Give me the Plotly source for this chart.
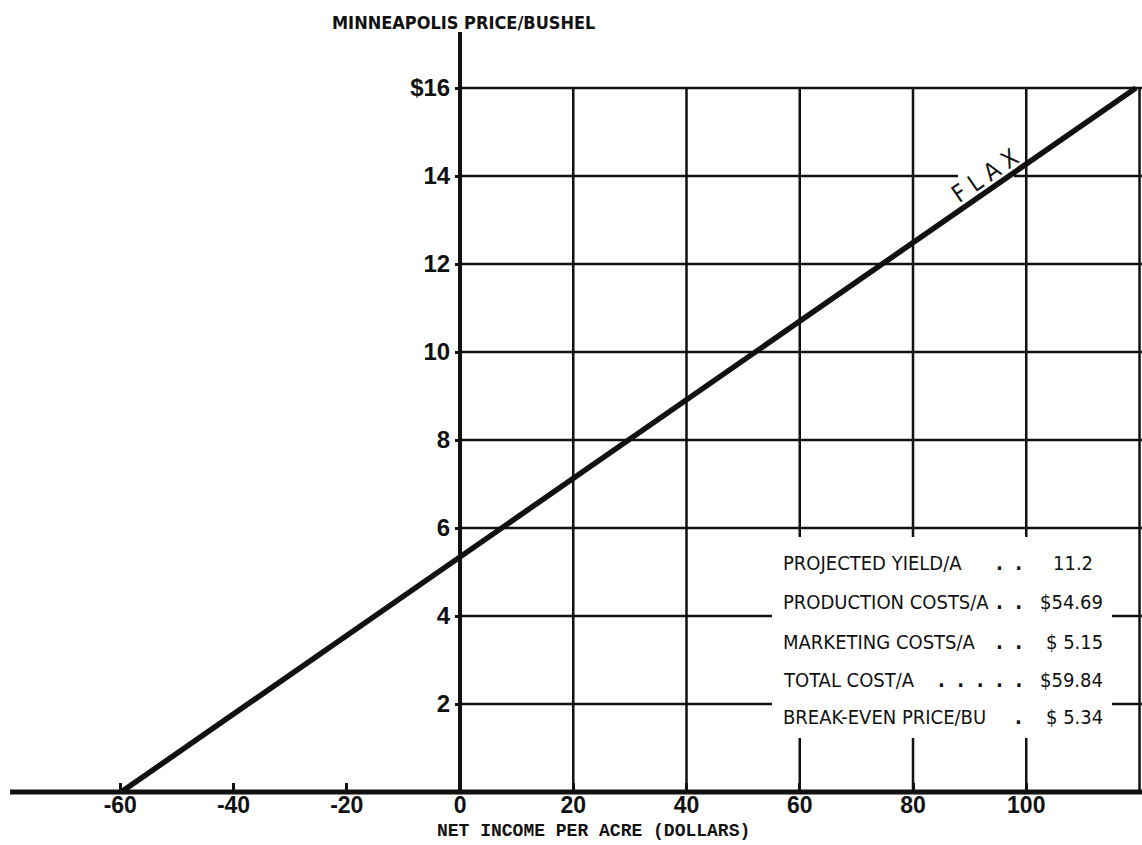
import plotly.graph_objects as go

# ---- data ----
net_income = [-59.84, 119.36]          # dollars per acre
price_bushel = [0, 16]                 # Minneapolis price per bushel
x_ticks = [-60, -40, -20, 0, 20, 40, 60, 80, 100]
x_grid = [20, 40, 60, 80, 100, 120]
y_ticks = [2, 4, 6, 8, 10, 12, 14, 16]
y_tick_text = ["2", "4", "6", "8", "10", "12", "14", "$16"]
box_labels = ["PROJECTED YIELD/A", "PRODUCTION COSTS/A", "MARKETING COSTS/A",
              "TOTAL COST/A", "BREAK-EVEN PRICE/BU"]
box_dots = [". .", ". .", ". .", ". . . . .", "."]
box_values = ["11.2", "$54.69", "$ 5.15", "$59.84", "$ 5.34"]

INK = "#111111"
COND = "DejaVu Sans Condensed, DejaVu Sans, sans-serif"
TICKF = "Liberation Sans, Arial, sans-serif"
MONO = "Liberation Mono, DejaVu Sans Mono, monospace"
XR = [-81.24, 120.44]
YR = [-1.2045, 18.0]
W, H = 1142, 845
dot_space = [2, 2, 2, 2, 1]


def px_x(p):
    return XR[0] + p / W * (XR[1] - XR[0])


def px_y(p):
    return YR[1] - p / H * (YR[1] - YR[0])


fig = go.Figure()

shapes = []
flax_gap = (px_x(958), px_x(1014))
for yv in y_ticks:
    if yv == 14:
        segs = [(0, flax_gap[0]), (flax_gap[1], XR[1])]
    else:
        segs = [(0, XR[1])]
    for a, b in segs:
        shapes.append(dict(type="line", xref="x", yref="y", x0=a, x1=b, y0=yv, y1=yv,
                           line=dict(color=INK, width=2.5), layer="below"))
for xv in x_grid:
    shapes.append(dict(type="line", xref="x", yref="y", x0=xv, x1=xv, y0=0, y1=16,
                       line=dict(color=INK, width=2.5), layer="below"))
shapes.append(dict(type="rect", xref="x", yref="y", x0=px_x(772), x1=px_x(1112), y0=px_y(738), y1=px_y(537),
                   fillcolor="white", line=dict(width=0), layer="below"))
shapes.append(dict(type="line", xref="x", yref="y", x0=px_x(10), x1=XR[1], y0=0, y1=0,
                   line=dict(color=INK, width=5)))
shapes.append(dict(type="line", xref="x", yref="y", x0=0, x1=0, y0=0, y1=px_y(32),
                   line=dict(color=INK, width=4)))

fig.add_trace(go.Scatter(x=net_income, y=price_bushel, mode="lines",
                         line=dict(color=INK, width=5.5), hoverinfo="skip", showlegend=False))

annotations = []
annotations.append(dict(x=px_x(985), y=px_y(176), xref="x", yref="y", text="F L A X", showarrow=False,
                        textangle=-34.5, font=dict(family=COND, size=24, color=INK)))
annotations.append(dict(x=330 / W, y=1 - 22 / H, xref="paper", yref="paper",
                        text="MINNEAPOLIS PRICE/BUSHEL", showarrow=False, xanchor="left",
                        yanchor="middle", font=dict(family=COND, size=18, color=INK, weight="bold")))
annotations.append(dict(x=593 / W, y=1 - 831 / H, xref="paper", yref="paper",
                        text="NET INCOME PER ACRE (DOLLARS)", showarrow=False, xanchor="center",
                        yanchor="middle", font=dict(family=MONO, size=18, color=INK, weight="bold")))
row_y = [563, 602, 642, 680, 717]
val_right = [1095, 1105, 1105, 1105, 1105]
for lab, dots, val, py, vr, ds in zip(box_labels, box_dots, box_values, row_y, val_right, dot_space):
    annotations.append(dict(x=px_x(781), y=px_y(py), xref="x", yref="y", text=lab,
                            showarrow=False, xanchor="left", yanchor="middle",
                            font=dict(family=COND, size=20, color=INK)))
    annotations.append(dict(x=px_x(1024), y=px_y(py), xref="x", yref="y",
                            text=dots.replace(" ", "&nbsp;" * ds),
                            showarrow=False, xanchor="right", yanchor="middle",
                            font=dict(family=COND, size=20, color=INK, weight="bold")))
    annotations.append(dict(x=px_x(vr), y=px_y(py), xref="x", yref="y", text=val.replace(" ", "&nbsp;"),
                            showarrow=False, xanchor="right", yanchor="middle",
                            font=dict(family=COND, size=20, color=INK)))

fig.update_layout(
    width=W, height=H,
    margin=dict(l=0, r=0, t=0, b=0),
    paper_bgcolor="white", plot_bgcolor="white",
    showlegend=False,
    shapes=shapes, annotations=annotations,
    xaxis=dict(range=XR, showgrid=False, zeroline=False, showline=False,
               tickmode="array", tickvals=x_ticks, ticktext=[str(v) for v in x_ticks],
               ticks="inside", ticklen=9, tickwidth=2.5, tickcolor=INK,
               tickfont=dict(family=TICKF, size=23, color=INK, weight="bold"),
               ticklabelstandoff=-3,
               anchor="free", position=53 / H, side="bottom", automargin=False, fixedrange=True),
    yaxis=dict(range=YR, showgrid=False, zeroline=False, showline=False,
               tickmode="array", tickvals=y_ticks, ticktext=y_tick_text,
               ticks="outside", ticklen=5, tickwidth=2.5, tickcolor=INK,
               tickfont=dict(family=TICKF, size=24, color=INK, weight="bold"),
               anchor="free", position=(0 - XR[0]) / (XR[1] - XR[0]), side="left",
               automargin=False, fixedrange=True),
)

fig.write_html("out.html", config={"displayModeBar": False},
               post_script="document.body.style.margin='0px';")
